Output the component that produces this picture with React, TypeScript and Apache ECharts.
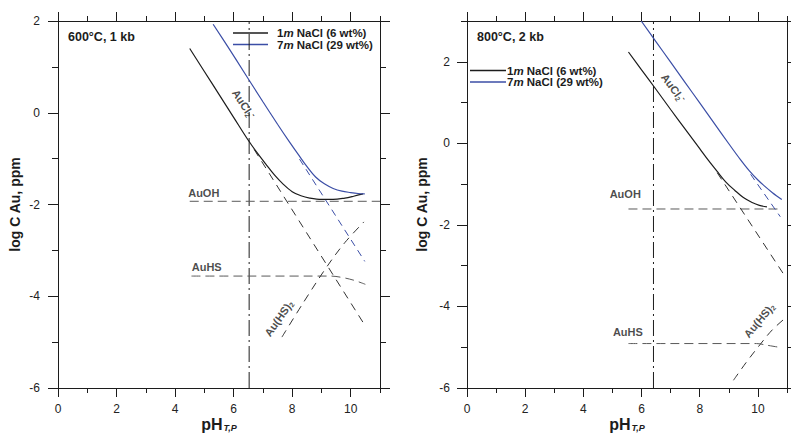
import React, { useEffect, useRef } from "react";
import * as echarts from "echarts";

// Tick positions
const PH_MAJOR = [0, 2, 4, 6, 8, 10];
const PH_MINOR = [1, 3, 5, 7, 9, 11];
const LOGC_MAJOR = [-6, -4, -2, 0, 2];
const LOGC_MINOR_600 = [-5, -3, -1, 1];
const LOGC_MINOR_800 = [-5, -3, -1, 1, 3];

// 600 °C, 1 kb  —  [pH, log C Au]
const total1m600: number[][] = [
  [4.5, 1.4], [5.0, 0.9], [5.5, 0.4], [6.0, -0.1], [6.5, -0.6], [6.8, -0.87],
  [7.1, -1.12], [7.4, -1.36], [7.7, -1.56], [8.0, -1.72], [8.3, -1.81],
  [8.6, -1.86], [9.0, -1.89], [9.4, -1.89], [9.8, -1.86], [10.1, -1.82], [10.42, -1.77],
];
const total7m600: number[][] = [
  [5.3, 1.93], [5.8, 1.44], [6.4, 0.84], [7.0, 0.24], [7.5, -0.25], [7.9, -0.63],
  [8.2, -0.9], [8.5, -1.17], [8.8, -1.4], [9.1, -1.55], [9.4, -1.65], [9.7, -1.71],
  [10.0, -1.74], [10.25, -1.76], [10.48, -1.77],
];
const aucl1m600: number[][] = [[6.7, -0.8], [10.45, -4.6]];
const aucl7m600: number[][] = [[8.25, -1.01], [10.48, -3.24]];
const auoh600: number[][] = [[4.5, -1.93], [11, -1.93]];
const auhs600: number[][] = [[4.56, -3.56], [9.3, -3.56], [9.7, -3.59], [10.1, -3.65], [10.5, -3.74]];
const auhs2600: number[][] = [[7.65, -4.89], [8.4, -4.12], [9.17, -3.37], [9.8, -2.83], [10.45, -2.38]];
const neutral600 = 6.53;

// 800 °C, 2 kb
const total1m800: number[][] = [
  [5.55, 2.24], [6.0, 1.8], [6.5, 1.32], [7.0, 0.83], [7.5, 0.35], [8.0, -0.13],
  [8.3, -0.42], [8.6, -0.69], [8.9, -0.95], [9.2, -1.15], [9.5, -1.33],
  [9.8, -1.45], [10.05, -1.52], [10.31, -1.56],
];
const total7m800: number[][] = [
  [5.99, 3.0], [6.5, 2.49], [7.0, 1.99], [7.5, 1.49], [8.0, 0.99], [8.5, 0.49],
  [9.0, -0.01], [9.4, -0.4], [9.7, -0.67], [10.0, -0.9], [10.2, -1.03],
  [10.5, -1.21], [10.82, -1.38],
];
const aucl1m800: number[][] = [[8.6, -0.72], [10.94, -3.27]];
const aucl7m800: number[][] = [[9.75, -0.76], [10.77, -1.8]];
const auoh800: number[][] = [[5.55, -1.61], [10.77, -1.61]];
const auhs800: number[][] = [[5.55, -4.91], [9.95, -4.91], [10.3, -4.95], [10.72, -5.0]];
const auhs2800: number[][] = [[9.16, -5.81], [9.6, -5.37], [10.08, -4.93], [10.5, -4.57], [11.0, -4.25]];
const neutral800 = 6.41;

const FONT = "Liberation Sans, Arial, sans-serif";
const INK = "#1c1c1c";
const BLUE = "#3b4ea6";
const GREY = "#5a5a5a";

const speciesRich = {
  sub: { fontSize: 7, fontWeight: "bold", fontFamily: FONT, color: INK, padding: [6, 0, 0, 0] },
  sup: { fontSize: 8, fontWeight: "bold", fontFamily: FONT, color: INK, padding: [0, 0, 5, 0] },
};

function xAxes(g: number) {
  const line = { color: INK, width: 1 };
  const base = { gridIndex: g, type: "value", min: 0, max: 11, splitLine: { show: false } };
  return [
    {
      ...base,
      position: "bottom",
      axisLine: { show: true, onZero: false, lineStyle: line },
      axisTick: { show: true, customValues: PH_MAJOR, length: 9, lineStyle: line },
      axisLabel: { show: true, customValues: PH_MAJOR, margin: 15, fontSize: 12, color: "#222", fontFamily: FONT },
      name: "{b|pH}{s|T,P}",
      nameLocation: "middle",
      nameGap: 28,
      nameMoveOverlap: false,
      nameTextStyle: {
        rich: {
          b: { fontSize: 16, fontWeight: "bold", fontFamily: FONT, color: INK, lineHeight: 17 },
          s: { fontSize: 9, fontWeight: "bold", fontStyle: "italic", fontFamily: FONT, color: INK, padding: [7, 0, 0, 1] },
        },
      },
    },
    {
      ...base,
      position: "bottom",
      axisLine: { show: false, onZero: false },
      axisTick: { show: true, customValues: PH_MINOR, length: 5, lineStyle: line },
      axisLabel: { show: false },
    },
    {
      ...base,
      position: "top",
      axisLine: { show: true, onZero: false, lineStyle: line },
      axisTick: { show: true, customValues: PH_MAJOR, length: 9, lineStyle: line },
      axisLabel: { show: false },
    },
    {
      ...base,
      position: "top",
      axisLine: { show: false, onZero: false },
      axisTick: { show: true, customValues: PH_MINOR, length: 5, lineStyle: line },
      axisLabel: { show: false },
    },
  ];
}

function yAxes(g: number, max: number, minor: number[], labelMargin: number, nameGap: number) {
  const line = { color: INK, width: 1 };
  const base = { gridIndex: g, type: "value", min: -6, max, splitLine: { show: false } };
  return [
    {
      ...base,
      position: "left",
      axisLine: { show: true, onZero: false, lineStyle: line },
      axisTick: { show: true, customValues: LOGC_MAJOR, length: 10, lineStyle: line },
      axisLabel: { show: true, customValues: LOGC_MAJOR, margin: labelMargin, fontSize: 12, color: "#222", fontFamily: FONT },
      name: "log C Au, ppm",
      nameLocation: "middle",
      nameRotate: 90,
      nameGap,
      nameMoveOverlap: false,
      nameTextStyle: { fontSize: 14, fontWeight: "bold", fontFamily: FONT, color: INK },
    },
    {
      ...base,
      position: "left",
      axisLine: { show: false, onZero: false },
      axisTick: { show: true, customValues: minor, length: 6, lineStyle: line },
      axisLabel: { show: false },
    },
    {
      ...base,
      position: "right",
      axisLine: { show: true, onZero: false, lineStyle: line },
      axisTick: { show: true, customValues: LOGC_MAJOR, length: 10, lineStyle: line },
      axisLabel: { show: false },
    },
    {
      ...base,
      position: "right",
      axisLine: { show: false, onZero: false },
      axisTick: { show: true, customValues: minor, length: 6, lineStyle: line },
      axisLabel: { show: false },
    },
  ];
}

function curve(data: number[][], axis: number, color: string, width: number, type: any, smooth = false) {
  return {
    type: "line",
    xAxisIndex: axis,
    yAxisIndex: axis,
    data,
    showSymbol: false,
    symbol: "none",
    smooth: smooth ? 0.35 : false,
    silent: true,
    lineStyle: { color, width, type },
  };
}

function tag(pos: number[], axis: number, text: string, rotate = 0) {
  return {
    type: "scatter",
    xAxisIndex: axis,
    yAxisIndex: axis,
    data: [pos],
    symbolSize: 1,
    itemStyle: { color: "transparent" },
    silent: true,
    label: {
      show: true,
      position: "inside",
      formatter: text,
      rotate,
      fontSize: 11,
      fontWeight: "bold",
      fontFamily: FONT,
      color: INK,
      rich: speciesRich,
    },
  };
}

function panel(
  axis: number,
  yMax: number,
  total1m: number[][],
  total7m: number[][],
  aucl1m: number[][],
  aucl7m: number[][],
  auoh: number[][],
  auhs: number[][],
  auhs2: number[][],
  neutral: number,
) {
  const dashDot = [16, 4, 2, 4];
  return [
    curve([[neutral, -6], [neutral, yMax]], axis, INK, 1, dashDot),
    curve(auoh, axis, GREY, 1, [9, 5]),
    curve(auhs, axis, GREY, 1, [9, 5], true),
    curve(auhs2, axis, "#333", 1, [8, 6], true),
    curve(aucl1m, axis, "#333", 1, [8, 6]),
    curve(aucl7m, axis, BLUE, 1, [7, 5]),
    curve(total1m, axis, INK, 1.2, "solid", true),
    curve(total7m, axis, BLUE, 1.2, "solid", true),
  ];
}

function legend(x: number, y: number, lineLen: number, gap: number) {
  const textStyle = (text: string, yy: number) => ({
    type: "text",
    x: x + lineLen + gap,
    y: yy,
    silent: true,
    style: {
      text,
      fontSize: 11.5,
      fontWeight: "bold",
      fontFamily: FONT,
      fill: INK,
      verticalAlign: "middle",
      rich: {
        i: { fontSize: 11.5, fontWeight: "bold", fontStyle: "italic", fontFamily: FONT, fill: INK, color: INK },
      },
    },
  });
  return [
    { type: "line", silent: true, shape: { x1: x, y1: y, x2: x + lineLen, y2: y }, style: { stroke: INK, lineWidth: 1.4 } },
    { type: "line", silent: true, shape: { x1: x, y1: y + 11.5, x2: x + lineLen, y2: y + 11.5 }, style: { stroke: BLUE, lineWidth: 1.4 } },
    textStyle("1{i|m} NaCl (6 wt%)", y),
    textStyle("7{i|m} NaCl (29 wt%)", y + 11.5),
  ];
}

function heading(x: number, text: string) {
  return {
    type: "text",
    x,
    y: 37,
    silent: true,
    style: { text, fontSize: 12.5, fontWeight: "bold", fontFamily: FONT, fill: INK, verticalAlign: "middle" },
  };
}

export default function App() {
  const ref = useRef<HTMLDivElement>(null);

  useEffect(() => {
    if (!ref.current) return;
    const chart = echarts.init(ref.current, null, { renderer: "svg" });
    chart.setOption({
      animation: false,
      backgroundColor: "#ffffff",
      textStyle: { fontFamily: FONT },
      grid: [
        { left: 58, top: 21, width: 322, height: 367, outerBoundsMode: "none" },
        { left: 467, top: 21, width: 320, height: 367, outerBoundsMode: "none" },
      ],
      xAxis: [...xAxes(0), ...xAxes(1)],
      yAxis: [
        ...yAxes(0, 2, LOGC_MINOR_600, 18, 36),
        ...yAxes(1, 3, LOGC_MINOR_800, 17, 38),
      ],
      series: [
        ...panel(0, 2, total1m600, total7m600, aucl1m600, aucl7m600, auoh600, auhs600, auhs2600, neutral600),
        ...panel(4, 3, total1m800, total7m800, aucl1m800, aucl7m800, auoh800, auhs800, auhs2800, neutral800),
        tag([4.98, -1.75], 0, "AuOH"),
        tag([5.08, -3.36], 0, "AuHS"),
        tag([6.34, 0.19], 0, "AuCl{sub|2}{sup|-}", -57),
        tag([7.54, -4.48], 0, "Au(HS){sub|2}", 55),
        tag([5.44, -1.24], 4, "AuOH"),
        tag([5.53, -4.63], 4, "AuHS"),
        tag([7.09, 1.36], 4, "AuCl{sub|2}{sup|-}", -54),
        tag([10.04, -4.34], 4, "Au(HS){sub|2}", 50),
      ],
      graphic: [
        heading(68, "600°C, 1 kb"),
        heading(477, "800°C, 2 kb"),
        ...legend(233, 33, 35, 9),
        ...legend(470, 70.5, 36, 1),
      ],
    });
    return () => chart.dispose();
  }, []);

  return (
    <div
      ref={ref}
      style={{ position: "fixed", left: 0, top: 0, width: 791, height: 434, background: "#fff" }}
    />
  );
}
